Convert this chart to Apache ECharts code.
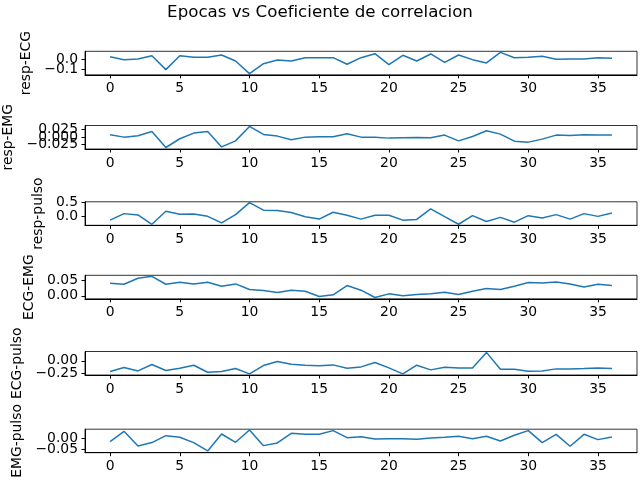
<!DOCTYPE html>
<html lang="es">
  <head>
    <meta charset="UTF-8" />
    <title>Epocas vs Coeficiente de correlacion</title>
    <script src="https://cdn.jsdelivr.net/npm/echarts@6/dist/echarts.min.js"></script>
    <style>
      html, body { margin: 0; padding: 0; background: #fff; }
      #main { width: 640px; height: 480px; }
    </style>
  </head>
  <body>
    <div id="main"></div>
    <script>
      // epocas 0..36
      const epocas = [0, 1, 2, 3, 4, 5, 6, 7, 8, 9, 10, 11, 12, 13, 14, 15, 16, 17, 18,
        19, 20, 21, 22, 23, 24, 25, 26, 27, 28, 29, 30, 31, 32, 33, 34, 35, 36];

      const respECG = [0.026, -0.003, 0.003, 0.035, -0.100, 0.035, 0.020, 0.020, 0.042, -0.016,
        -0.139, -0.042, -0.006, -0.016, 0.016, 0.016, 0.016, -0.048, 0.016, 0.055,
        -0.052, 0.039, -0.016, 0.052, -0.029, 0.042, -0.003, -0.035, 0.068, 0.016,
        0.020, 0.029, 0.000, 0.003, 0.003, 0.016, 0.010];
      const respEMG = [0.0072, -0.0006, 0.0039, 0.0180, -0.0350, -0.0060, 0.0128, 0.0180, -0.0330, -0.0130,
        0.0350, 0.0083, 0.0028, -0.0094, -0.0006, 0.0006, 0.0006, 0.0106, -0.0006, -0.0006,
        -0.0039, -0.0028, -0.0017, -0.0028, 0.0061, -0.0130, 0.0017, 0.0206, 0.0094, -0.0139,
        -0.0172, -0.0072, 0.0061, 0.0050, 0.0072, 0.0061, 0.0061];
      const respPulso = [-0.131, 0.095, 0.048, -0.274, 0.179, 0.071, 0.083, 0.000, -0.226, 0.060,
        0.476, 0.214, 0.202, 0.131, -0.012, -0.095, 0.143, 0.036, -0.095, 0.036,
        0.036, -0.131, -0.107, 0.262, -0.012, -0.274, 0.024, -0.179, -0.036, -0.202,
        0.024, -0.060, 0.060, -0.095, 0.095, 0.000, 0.119];
      const ecgEMG = [0.0404, 0.0372, 0.0564, 0.0628, 0.0372, 0.0436, 0.0383, 0.0436, 0.0309, 0.0383,
        0.0202, 0.0170, 0.0106, 0.0181, 0.0149, -0.0021, 0.0032, 0.0330, 0.0181, -0.0053,
        0.0064, 0.0000, 0.0043, 0.0064, 0.0117, 0.0043, 0.0149, 0.0234, 0.0202, 0.0309,
        0.0426, 0.0415, 0.0447, 0.0383, 0.0287, 0.0372, 0.0330];
      const ecgPulso = [-0.216, -0.135, -0.203, -0.074, -0.196, -0.149, -0.088, -0.230, -0.216, -0.155,
        -0.264, -0.095, -0.014, -0.068, -0.088, -0.101, -0.081, -0.149, -0.122, -0.034,
        -0.142, -0.264, -0.088, -0.182, -0.128, -0.142, -0.142, 0.172, -0.169, -0.169,
        -0.210, -0.203, -0.162, -0.162, -0.155, -0.142, -0.155];
      const emgPulso = [-0.0136, 0.0333, -0.0333, -0.0180, 0.0136, 0.0060, -0.0180, -0.0560, 0.0212, -0.0167,
        0.0394, -0.0318, -0.0197, 0.0242, 0.0197, 0.0197, 0.0364, 0.0045, 0.0090, -0.0015,
        0.0000, 0.0000, -0.0030, 0.0030, 0.0060, 0.0106, 0.0000, 0.0106, -0.0106, 0.0152,
        0.0364, -0.0180, 0.0197, -0.0348, 0.0197, -0.0045, 0.0076];

      const nombres = ["resp-ECG", "resp-EMG", "resp-pulso", "ECG-EMG", "ECG-pulso", "EMG-pulso"];
      const series = [respECG, respEMG, respPulso, ecgEMG, ecgPulso, emgPulso];

      // marcas de los ejes
      const xTicks = [0, 5, 10, 15, 20, 25, 30, 35];
      const yTicks = [
        [-0.1, 0.0],
        [-0.025, 0.0, 0.025],
        [0.0, 0.5],
        [0.0, 0.05],
        [-0.25, 0.0],
        [-0.05, 0.0]
      ];
      const yDecimales = [1, 3, 1, 2, 2, 2];

      // limites de los ejes (como en matplotlib, 5% de margen)
      const xMin = -1.8, xMax = 37.8, xGrano = 0.2;
      const yMin = [-0.150, -0.040, -0.310, -0.0095, -0.286, -0.064];
      const yMax = [0.078, 0.038, 0.505, 0.0660, 0.190, 0.043];
      const yGrano = [0.002, 0.001, 0.005, 0.0005, 0.002, 0.001];

      // layout (px)
      const tops = [51.3, 125.5, 201.8, 275.3, 351.5, 429.2];
      const alto = 23.5;
      const nameGaps = [46, 64, 35, 44, 55, 55];

      const fuente = "DejaVu Sans";
      const azul = "#1f77b4";

      // posiciones regulares para colocar las marcas en un eje de categorias
      function rejilla(min, max, paso) {
        const n = Math.round((max - min) / paso);
        const out = [];
        for (let k = 0; k <= n; k++) out.push(String(+(min + k * paso).toFixed(6)));
        return out;
      }
      function esMarca(val, marcas, paso) {
        const v = Number(val);
        return marcas.some(t => Math.abs(t - v) < paso / 2);
      }
      function fmt(val, d) {
        const v = Number(val);
        const s = Math.abs(v).toFixed(d);
        return (v < -1e-9 ? "\u2212" : "") + s;
      }

      const chart = echarts.init(document.getElementById("main"), null, { renderer: "canvas" });

      const negro = { color: "#000", width: 1 };
      const texto = { color: "#000", fontFamily: fuente, fontSize: 13.9 };
      const xCats = rejilla(xMin, xMax, xGrano);
      const grid = [], xAxis = [], yAxis = [], serie = [];
      series.forEach((datos, i) => {
        grid.push({
          left: 85, right: 3, top: tops[i], height: alto,
          show: true, borderColor: "#000", borderWidth: 0.8,
          backgroundColor: "transparent",
          containLabel: false, outerBoundsMode: "none"
        });
        // ejes de valores (datos)
        const xi = xAxis.length, yi = yAxis.length;
        xAxis.push({ type: "value", gridIndex: i, min: xMin, max: xMax, show: false });
        yAxis.push({ type: "value", gridIndex: i, min: yMin[i], max: yMax[i], show: false });
        // eje x visible: marcas y etiquetas
        const xMarca = (idx, val) => esMarca(val, xTicks, xGrano);
        xAxis.push({
          type: "category", gridIndex: i, position: "bottom", boundaryGap: false, data: xCats,
          axisLine: { show: true, onZero: false, lineStyle: negro },
          splitLine: { show: false },
          axisTick: { show: true, inside: false, length: 3.5, interval: xMarca, lineStyle: negro },
          axisLabel: Object.assign({ margin: 7, interval: xMarca, hideOverlap: false,
            formatter: v => String(Math.round(Number(v))) }, texto)
        });
        // eje y visible: un eje por marca, asi las etiquetas solapadas se dibujan todas
        const yCats = rejilla(yMin[i], yMax[i], yGrano[i]);
        yTicks[i].forEach((t, j) => {
          const yMarca = (idx, val) => esMarca(val, [t], yGrano[i]);
          const eje = {
            type: "category", gridIndex: i, position: "left", offset: 0,
            boundaryGap: false, data: yCats,
            axisLine: { show: j === 0, onZero: false, lineStyle: negro },
            splitLine: { show: false },
            axisTick: { show: true, inside: false, length: 3.5, interval: yMarca, lineStyle: negro },
            axisLabel: Object.assign({ margin: 7, interval: yMarca, hideOverlap: false,
              formatter: v => fmt(v, yDecimales[i]) }, texto)
          };
          if (j === 0) {
            eje.name = nombres[i];
            eje.nameLocation = "middle";
            eje.nameGap = nameGaps[i];
            eje.nameTextStyle = texto;
          }
          yAxis.push(eje);
        });
        serie.push({
          type: "line", xAxisIndex: xi, yAxisIndex: yi,
          data: epocas.map((e, k) => [e, datos[k]]),
          showSymbol: false, symbol: "none",
          lineStyle: { color: azul, width: 1.5 },
          itemStyle: { color: azul },
          clip: true
        });
      });

      chart.setOption({
        animation: false,
        backgroundColor: "#fff",
        title: {
          text: "Epocas vs Coeficiente de correlacion",
          left: "center", top: 4, padding: 0,
          textStyle: { color: "#000", fontFamily: fuente, fontSize: 16.67, fontWeight: "normal" }
        },
        grid: grid,
        xAxis: xAxis,
        yAxis: yAxis,
        series: serie
      });
    </script>
  </body>
</html>
